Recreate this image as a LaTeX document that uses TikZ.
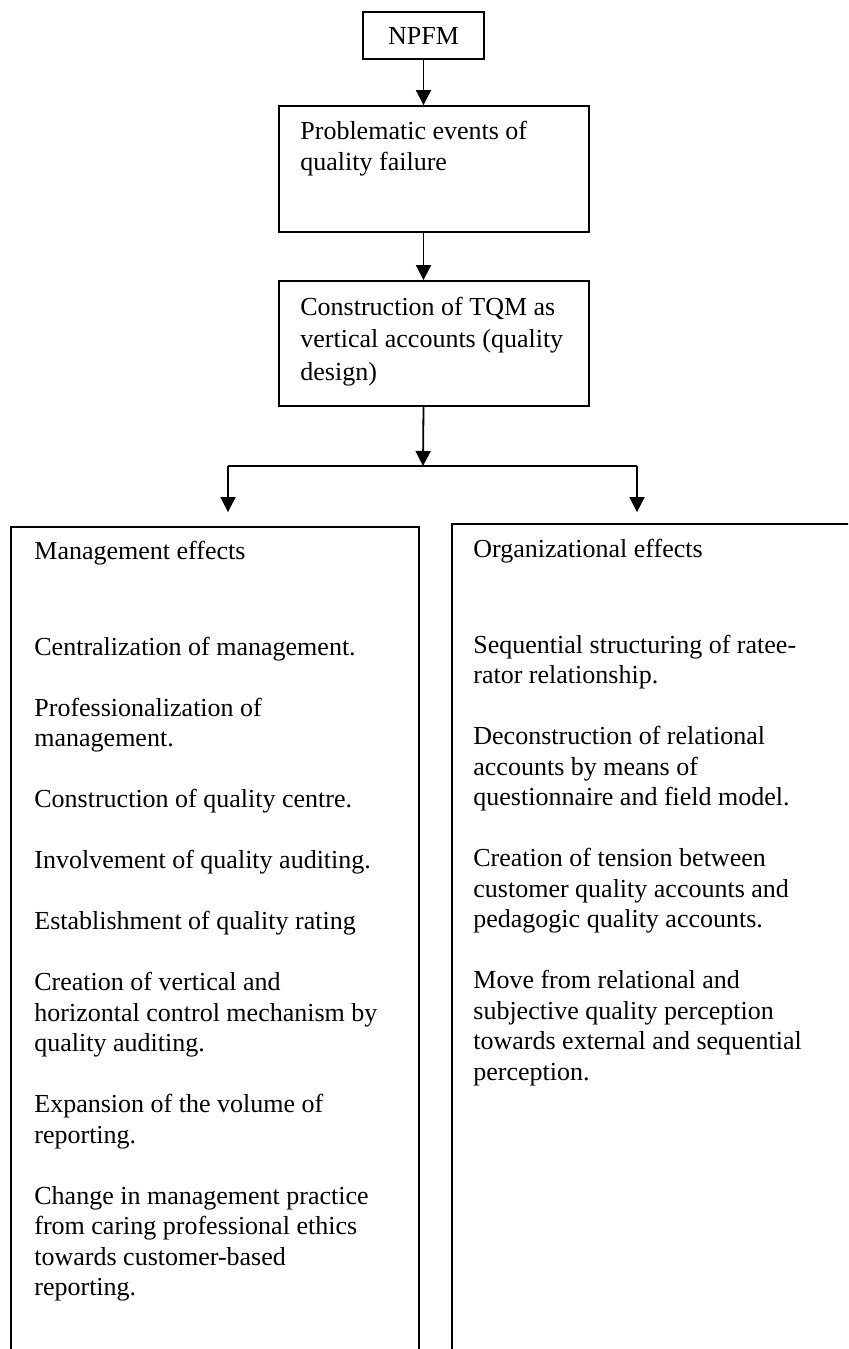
\documentclass[tikz,border=0pt]{standalone}
\usepackage{fontspec}
\setmainfont{Liberation Serif}
\usetikzlibrary{arrows.meta}
\begin{document}
\begin{tikzpicture}[x=0.5pt,y=-0.5pt,
  boxframe/.style={draw, line width=0.9pt, inner sep=0pt},
  txt/.style={anchor=north west, inner sep=0pt, align=left,
              font=\fontsize{13pt}{15.25pt}\selectfont},
  arr/.style={line width=0.9pt, -{Triangle[width=7.5pt,length=7.5pt]}},
  link/.style={line width=0.9pt}
]
% page frame
\useasboundingbox (0,0) rectangle (848,1349);
\fill[white] (0,0) rectangle (848,1349);
\clip (0,0) rectangle (848,1349);

% top chain
\node[boxframe, minimum width=60.5pt, minimum height=23.5pt,
      font=\fontsize{13pt}{15.25pt}\selectfont] (npfm) at (423.5,35.5) {NPFM};
\node[boxframe, minimum width=155pt, minimum height=63pt] (events) at (434,169) {};
\node[txt] (eventstxt) at (300,118) {\strut Problematic events of\\quality failure};
\node[boxframe, minimum width=155pt, minimum height=62.5pt] (tqm) at (434,343.5) {};
\node[txt, font=\fontsize{13pt}{16.25pt}\selectfont] (tqmtxt) at (300,292)
  {\strut Construction of TQM as\\vertical accounts (quality\\design)};

% effect columns (open at the bottom of the page)
\node[boxframe, minimum width=204pt, minimum height=420pt] (mgmt) at (215,947) {};
\node[boxframe, minimum width=209pt, minimum height=425pt] (org) at (661,949) {};

\node[txt] (mgmthead) at (34,537.6) {\strut Management effects};
\node[txt] (mgmtlist) at (34,633.6) {\strut Centralization of management.\\[15.25pt]
Professionalization of\\management.\\[15.25pt]
Construction of quality centre.\\[15.25pt]
Involvement of quality auditing.\\[15.25pt]
Establishment of quality rating\\[15.25pt]
Creation of vertical and\\horizontal control mechanism by\\quality auditing.\\[15.25pt]
Expansion of the volume of\\reporting.\\[15.25pt]
Change in management practice\\from caring professional ethics\\towards customer-based\\reporting.};

\node[txt] (orghead) at (473,535.6) {\strut Organizational effects};
\node[txt] (orglist) at (473,631.6) {\strut Sequential structuring of ratee-\\rator relationship.\\[15.25pt]
Deconstruction of relational\\accounts by means of\\questionnaire and field model.\\[15.25pt]
Creation of tension between\\customer quality accounts and\\pedagogic quality accounts.\\[15.25pt]
Move from relational and\\subjective quality perception\\towards external and sequential\\perception.};

% connectors
\coordinate (split) at (423,466);
\coordinate (jl) at (228,466);
\coordinate (jr) at (637,466);
\draw[arr] (npfm.south) -- (npfm.south |- events.north);
\draw[arr] (npfm.south |- events.south) -- (npfm.south |- tqm.north);
\draw[arr] (npfm.south |- tqm.south) -- (split);
\draw[link] (jl) -- (jr);
\draw[arr, shorten >=7pt] (jl) -- (jl |- mgmt.north);
\draw[arr, shorten >=5.5pt] (jr) -- (jr |- org.north);
\end{tikzpicture}
\end{document}
